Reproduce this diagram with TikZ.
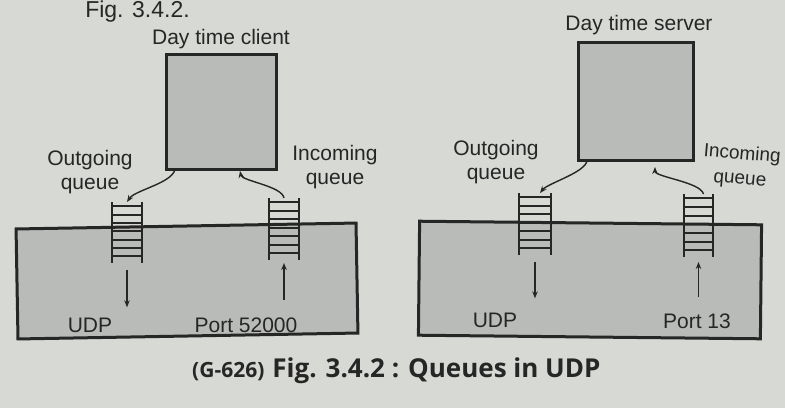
\documentclass[tikz,border=0pt]{standalone}
\usepackage{fontspec}
\setmainfont{Liberation Sans}
\newfontfamily\capfont{Open Sans}
\usetikzlibrary{arrows.meta,calc}
\definecolor{paper}{RGB}{214,217,212}
\definecolor{panel}{RGB}{184,187,183}
\definecolor{ink}{RGB}{38,38,38}

% a queue drawn as a ladder: name, centre x, centre y, width, height
\newcommand\queueladder[5]{%
  \node[ladder, minimum width=#4, minimum height=#5] (#1) at (#2,#3) {};
  \draw[rail] (#1.north west) -- (#1.south west) (#1.north east) -- (#1.south east);
  \foreach \f in {0.07,0.207,0.344,0.481,0.618,0.755,0.892}
    \draw[rung] ($(#1.north west)!\f!(#1.south west)$) -- ($(#1.north east)!\f!(#1.south east)$);
}

\begin{document}
\begin{tikzpicture}[x=1pt,y=-1pt,
  box/.style={draw=ink, line width=3pt, fill=panel, inner sep=0pt, outer sep=0pt},
  ladder/.style={inner sep=0pt, outer sep=0pt},
  rail/.style={draw=ink, line width=2.6pt},
  rung/.style={draw=ink, line width=2pt},
  lbl/.style={text=ink, font=\fontsize{21}{24}\selectfont, inner sep=0pt, align=center},
  flow/.style={draw=ink, line width=1.4pt, -{Stealth[length=7pt,width=5.5pt]}},
]
\clip (0,0) rectangle (785,408);
\fill[paper] (0,0) rectangle (785,408);

% running head at the top of the page
\node[lbl, font=\fontsize{23}{26}\selectfont, anchor=base] (head) at (137.5,17.5) {Fig. 3.4.2.};

% ---------------- client side ----------------
\node[box, minimum width=340pt, minimum height=110pt, rotate=1] (hostL) at (187,281) {};
\node[box, minimum width=110pt, minimum height=115pt] (client) at (221,111.5) {};
\node[lbl, anchor=base] (clientname) at (221,44) {Day time client};

\queueladder{outL}{127}{232.5}{30pt}{61pt}
\queueladder{inL}{284}{229}{30pt}{62pt}

\node[lbl] (outLtxt) at (90,172) {Outgoing\\queue};
\node[lbl] (inLtxt) at (335,167) {Incoming\\queue};
\node[lbl, anchor=base] (udpL) at (90,332) {UDP};
\node[lbl, anchor=base] (portL) at (246,332) {Port 52000};

\draw[flow] ([xshift=9pt]client.south west) .. controls +(-2,14) and +(8,-12) .. (outL.north);
\draw[flow] (inL.north) .. controls +(-2,-12) and +(2,10) .. ([xshift=74pt,yshift=-2pt]client.south west);
\draw[flow, shorten <=7pt, shorten >=10pt] (outL.south) -- (outL.south |- udpL.north);
\draw[flow, shorten <=17pt, shorten >=3pt] (inL.south |- portL.north) -- (inL.south);

% ---------------- server side ----------------
\node[box, minimum width=342pt, minimum height=114pt, rotate=-0.6] (hostR) at (590,280) {};
\node[box, minimum width=115pt, minimum height=118pt] (server) at (635.5,101) {};
\node[lbl, anchor=base] (servername) at (639,30) {Day time server};

\queueladder{outR}{535}{224}{32pt}{62pt}
\queueladder{inR}{698.5}{225.5}{29pt}{63pt}

\node[lbl] (outRtxt) at (496,162) {Outgoing\\queue};
\node[lbl, font=\fontsize{19}{25}\selectfont, rotate=-5] (inRtxt) at (741,167) {Incoming\\queue};
\node[lbl, anchor=base] (udpR) at (495,327) {UDP};
\node[lbl, anchor=base] (portR) at (697,328) {Port 13};

\draw[flow] ([xshift=9pt]server.south west) .. controls +(0,12) and +(8,-10) .. ([xshift=5pt]outR.north);
\draw[flow] ([xshift=5pt]inR.north) .. controls +(-3,-12) and +(0,10) .. ([xshift=77pt,yshift=-7pt]server.south west);
\draw[flow, shorten <=7pt, shorten >=14pt] (outR.south) -- (outR.south |- udpR.north);
\draw[flow, shorten <=16pt, shorten >=5pt] (inR.south |- portR.north) -- (inR.south);

% ---------------- caption ----------------
\node[anchor=base west, inner sep=0pt, text=ink] (caption) at (192,377)
  {\capfont\bfseries{\fontsize{21}{22}\selectfont(G-626)}\hspace{8pt}\fontsize{26}{29}\selectfont Fig. 3.4.2 : Queues in UDP};
\end{tikzpicture}
\end{document}
